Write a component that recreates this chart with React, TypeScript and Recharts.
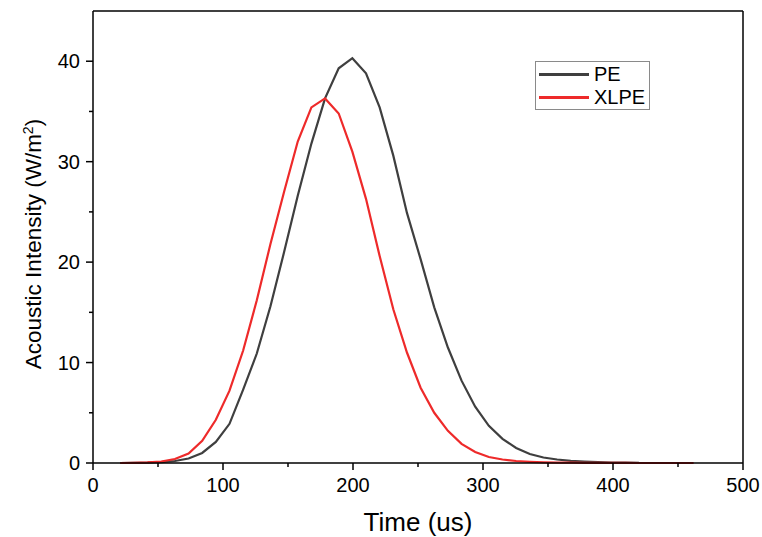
import React from "react";
import { LineChart, Line, XAxis, YAxis, ReferenceLine, Legend } from "recharts";

// sample times (us) and acoustic intensity (W/m^2)
const times = [
  21, 31.5, 42, 52.5, 63, 73.5, 84, 94.5, 105, 115.5, 126, 136.5, 147, 157.5, 168, 178.5, 189, 199.5,
  210, 220.5, 231, 241.5, 252, 262.5, 273, 283.5, 294, 304.5, 315, 325.5, 336, 346.5, 357, 367.5, 378,
  388.5, 399, 409.5, 420, 430.5, 441, 451.5, 462,
];
const pe = [
  0, 0.01, 0.03, 0.08, 0.2, 0.45, 1.0, 2.1, 3.9, 7.3, 10.9, 15.6, 21.0, 26.6, 31.8, 36.3, 39.3, 40.3,
  38.8, 35.4, 30.6, 24.9, 20.3, 15.5, 11.5, 8.2, 5.6, 3.7, 2.4, 1.5, 0.9, 0.55, 0.35, 0.22, 0.14,
  0.08, 0.05, 0.03, 0.02,
];
const xlpe = [
  0, 0.02, 0.06, 0.15, 0.4, 0.95, 2.2, 4.3, 7.2, 11.2, 16.2, 21.8, 27.0, 32.0, 35.4, 36.3, 34.8, 31.0,
  26.3, 20.6, 15.3, 11.0, 7.5, 5.0, 3.2, 1.9, 1.1, 0.6, 0.35, 0.2, 0.12, 0.07, 0.04, 0.03, 0.02,
  0.01, 0.01, 0.01, 0, 0, 0, 0, 0,
];
const xTicks = [0, 50, 100, 150, 200, 250, 300, 350, 400, 450, 500];
const yTicks = [0, 5, 10, 15, 20, 25, 30, 35, 40];

const data = times.map((t, i) => ({ t, PE: pe[i] ?? null, XLPE: xlpe[i] ?? null }));

const FONT = "'Liberation Sans', Arial, sans-serif";
const PLOT_LEFT = 93;
const PLOT_BOTTOM = 463;
const PE_COLOR = "#3f3f3f";
const XLPE_COLOR = "#ee2a2a";

function XTick(props: any) {
  const { x, payload } = props;
  const major = payload.value % 100 === 0;
  return (
    <g>
      <line x1={x} x2={x} y1={PLOT_BOTTOM} y2={PLOT_BOTTOM + (major ? 7 : 4)} stroke="#000" strokeWidth={1.5} />
      {major && (
        <text x={x} y={PLOT_BOTTOM + 29} textAnchor="middle" fontSize={20} fill="#000" fontFamily={FONT}>
          {payload.value}
        </text>
      )}
    </g>
  );
}

function YTick(props: any) {
  const { y, payload } = props;
  const major = payload.value % 10 === 0;
  return (
    <g>
      <line x1={PLOT_LEFT - (major ? 7 : 4)} x2={PLOT_LEFT} y1={y} y2={y} stroke="#000" strokeWidth={1.5} />
      {major && (
        <text x={PLOT_LEFT - 13} y={y} dy="0.36em" textAnchor="end" fontSize={20} fill="#000" fontFamily={FONT}>
          {payload.value}
        </text>
      )}
    </g>
  );
}

function LegendBox(props: any) {
  const items = props.payload || [];
  return (
    <div
      style={{
        border: "1px solid #8a8a8a",
        width: 113,
        height: 46,
        boxSizing: "content-box",
        fontFamily: FONT,
        fontSize: 20,
        paddingTop: 1,
      }}
    >
      {items.map((it: any) => (
        <div key={it.value} style={{ display: "flex", alignItems: "center", height: 23 }}>
          <div style={{ width: 50, height: 2.5, background: it.color, marginLeft: 3, marginRight: 5 }} />
          <span style={{ lineHeight: "23px" }}>{it.value}</span>
        </div>
      ))}
    </div>
  );
}

function YLabel() {
  return (
    <text
      transform="translate(41, 244) rotate(-90)"
      textAnchor="middle"
      fontSize={22.5}
      fill="#000"
      fontFamily={FONT}
    >
      Acoustic Intensity (W/m<tspan dy={-8} fontSize={14}>2</tspan>
      <tspan dy={8}>)</tspan>
    </text>
  );
}

export default function App() {
  return (
    <div style={{ position: "absolute", left: 0, top: 0, background: "#fff" }}>
      <LineChart width={762} height={537} data={data} margin={{ top: 11, right: 19, bottom: 0, left: 0 }}>
        <XAxis
          dataKey="t"
          type="number"
          domain={[0, 500]}
          ticks={xTicks}
          tick={<XTick />}
          tickLine={false}
          axisLine={{ stroke: "#000", strokeWidth: 1.5 }}
          height={74}
          interval={0}
          label={{
            value: "Time (us)",
            position: "insideBottom",
            offset: 6,
            fontSize: 26,
            fill: "#000",
            fontFamily: FONT,
          }}
        />
        <YAxis
          type="number"
          domain={[0, 45]}
          ticks={yTicks}
          tick={<YTick />}
          tickLine={false}
          axisLine={{ stroke: "#000", strokeWidth: 1.5 }}
          width={93}
          interval={0}
          label={<YLabel />}
        />
        <ReferenceLine y={45} stroke="#000" strokeWidth={1.5} />
        <ReferenceLine x={500} stroke="#000" strokeWidth={1.5} />
        <Legend
          content={<LegendBox />}
          wrapperStyle={{ left: 535, top: 61, width: 115, height: 48 }}
          layout="horizontal"
          verticalAlign="middle"
          align="center"
        />
        <Line
          type="linear"
          dataKey="PE"
          name="PE"
          stroke={PE_COLOR}
          strokeWidth={2.2}
          dot={false}
          isAnimationActive={false}
        />
        <Line
          type="linear"
          dataKey="XLPE"
          name="XLPE"
          stroke={XLPE_COLOR}
          strokeWidth={2.2}
          dot={false}
          isAnimationActive={false}
        />
      </LineChart>
    </div>
  );
}
